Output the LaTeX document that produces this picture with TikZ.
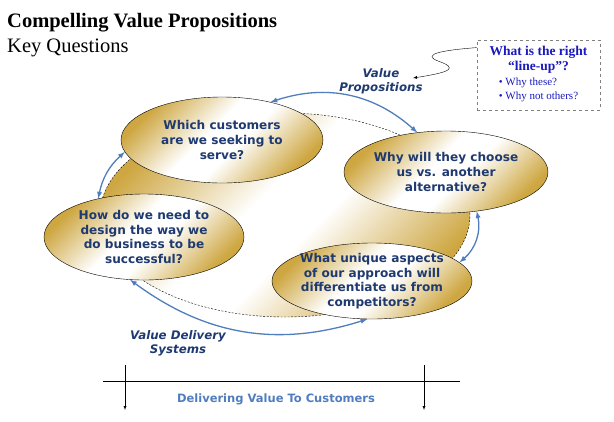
\documentclass[tikz,border=0pt]{standalone}
\usepackage{fontspec}
\setmainfont{Liberation Serif}
\setsansfont{DejaVu Sans}
\usetikzlibrary{arrows,shapes}
\definecolor{gold}{RGB}{206,167,66}
\definecolor{navy}{RGB}{31,58,112}
\definecolor{cycleblue}{RGB}{79,125,190}
\definecolor{boxblue}{RGB}{25,25,190}
\pgfdeclarehorizontalshading{goldband}{100bp}{color(0bp)=(gold); color(25bp)=(gold); color(35bp)=(gold!50!white); color(45bp)=(white); color(55bp)=(white); color(65bp)=(gold!50!white); color(75bp)=(gold); color(100bp)=(gold)}

\begin{document}
\begin{tikzpicture}[x=1pt,y=-1pt,
	gold fill/.style={shading=goldband,shading angle=-45},
	question/.style={ellipse,draw,thin,inner sep=-12pt,gold fill,text=navy,font=\sffamily\bfseries\fontsize{12.1}{14.6}\selectfont,align=center},
	cycle arrow/.style={latex-latex,cycleblue,line width=1.3pt},
	side label/.style={text=navy,font=\sffamily\bfseries\itshape\fontsize{11.8}{14}\selectfont,align=center}
]
	\useasboundingbox (0,0) rectangle (614,421);

	\node[anchor=base west,inner sep=0,font=\bfseries\fontsize{20.5}{24}\selectfont] (title) at (7,27) {Compelling Value Propositions};
	\node[anchor=base west,inner sep=0,font=\fontsize{20.5}{24}\selectfont] (sub) at (7,52) {Key Questions};

	\node[ellipse,draw,thin,dash pattern=on 2pt off 1.5pt,gold fill,minimum width=370,minimum height=204] (bg) at (285,215) {};

	\node[question,minimum width=202,minimum height=86] (cust) at (222,140) {Which customers\\are we seeking to\\serve?};
	\node[question,minimum width=204,minimum height=82] (choose) at (446,172) {Why will they choose\\us vs. another\\alternative?};
	\node[question,minimum width=200,minimum height=86] (design) at (144,237) {How do we need to\\design the way we\\do business to be\\successful?};
	\node[question,minimum width=200,minimum height=76] (unique) at (372,281) {What unique aspects\\of our approach will\\differentiate us from\\competitors?};

	\draw[cycle arrow] (cust.38) to[bend left=30] (choose.126);
	\draw[cycle arrow] (cust.187) to[bend right=18] (design.140);
	\draw[cycle arrow] (choose.-52) to[bend left=31] (unique.12);
	\draw[cycle arrow] (design.-108) to[bend right=27] (unique.-97);

	\node[side label] (vp) at (381,81) {Value\\Propositions};
	\node[side label] (vds) at (178,343) {Value Delivery\\Systems};

	\node[draw,gray,dashed,thick,text=boxblue,align=center,minimum width=123,minimum height=70,font=\fontsize{13.5}{15}\selectfont] (lineup) at (538.5,75) {\bfseries What is the right\\\bfseries “line-up”?\\[2pt]\fontsize{11}{14}\selectfont\begin{tabular}{@{}l@{}}• Why these?\\• Why not others?\end{tabular}};

	\coordinate (vptip) at (413,78);
	\draw[-latex,thin] ([yshift=-8pt]lineup.north west) .. controls (445,50) and (420,54) .. (438,61) .. controls (458,68) and (452,72) .. (vptip);

	\coordinate (line l) at (103,381);
	\coordinate (line r) at (460,381);
	\draw (line l) -- (line r);
	\foreach \x/\n in {125/a,424/b} {
		\coordinate (\n top) at (\x,365);
		\coordinate (\n bot) at (\x,410);
		\draw[-latex] (\n top) -- (\n bot);
	}
	\node[text=cycleblue,font=\sffamily\bfseries\fontsize{11.5}{14}\selectfont] (deliver) at (276,399) {Delivering Value To Customers};
\end{tikzpicture}
\end{document}
